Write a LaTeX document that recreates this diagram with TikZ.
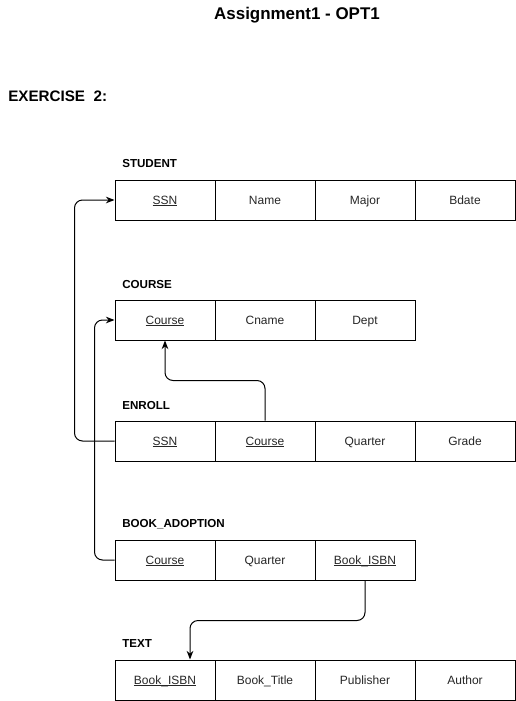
\documentclass[tikz,border=0pt]{standalone}
\usepackage{fontspec}
\setmainfont{Liberation Sans}
\usetikzlibrary{arrows.meta,calc}
\newcommand\ulbox[1]{\setbox0\hbox{#1}\rlap{\rule[-1.6pt]{\wd0}{0.5pt}}\box0}
\begin{document}
\begin{tikzpicture}[x=0.75pt,y=-0.75pt,
  cell/.style={draw=black,line width=0.75pt,minimum width=75pt,minimum height=30pt,inner sep=0pt,text height=7.8pt,text depth=1.8pt,font=\fontsize{9}{10}\selectfont,text=black!85},
  tlabel/.style={anchor=west,font=\bfseries\fontsize{8.7}{10}\selectfont,inner sep=0pt},
  conn/.style={draw=black,line width=0.75pt,rounded corners=6pt},
  arr/.style={-{Stealth[length=6.5pt,width=5pt]}}]
\useasboundingbox (0,0) rectangle (516,701);
\node[font=\bfseries\fontsize{12.7}{14}\selectfont,inner sep=0pt] (title) at (297,15.5) {Assignment1 - OPT1};
\node[anchor=west,font=\bfseries\fontsize{11.4}{12}\selectfont,inner sep=0pt] (ex) at (8,96.5) {EXERCISE\ \ 2:};
% STUDENT
\node[tlabel] (ls) at (122,164) {STUDENT};
\node[cell] (s1) at (165,200) {\ulbox{SSN}};
\node[cell] (s2) at (265,200) {Name};
\node[cell] (s3) at (365,200) {Major};
\node[cell] (s4) at (465,200) {Bdate};
% COURSE
\node[tlabel] (lc) at (122,284) {COURSE};
\node[cell] (c1) at (165,320) {\ulbox{Course}};
\node[cell] (c2) at (265,320) {Cname};
\node[cell] (c3) at (365,320) {Dept};
% ENROLL
\node[tlabel] (le) at (122,405) {ENROLL};
\node[cell] (e1) at (165,441) {\ulbox{SSN}};
\node[cell] (e2) at (265,441) {\ulbox{Course}};
\node[cell] (e3) at (365,441) {Quarter};
\node[cell] (e4) at (465,441) {Grade};
% BOOK_ADOPTION
\node[tlabel] (lb) at (122,524) {BOOK\_ADOPTION};
\node[cell] (b1) at (165,560) {\ulbox{Course}};
\node[cell] (b2) at (265,560) {Quarter};
\node[cell] (b3) at (365,560) {\ulbox{Book\_ISBN}};
% TEXT
\node[tlabel] (lt) at (122,644) {TEXT};
\node[cell] (t1) at (165,680) {\ulbox{Book\_ISBN}};
\node[cell] (t2) at (265,680) {Book\_Title};
\node[cell] (t3) at (365,680) {Publisher};
\node[cell] (t4) at (465,680) {Author};
% connectors
\draw[conn,arr] (e1.west) -- ++(-40,0) |- (s1.west);
\draw[conn,arr] (b1.west) -- ++(-20,0) |- (c1.west);
\draw[conn,arr] (e2.north) -- ++(0,-40) -| (c1.south);
\draw[conn,arr] (b3.south) -- ++(0,40) -| ($(t1.north)+(25,0)$);
\end{tikzpicture}
\end{document}
